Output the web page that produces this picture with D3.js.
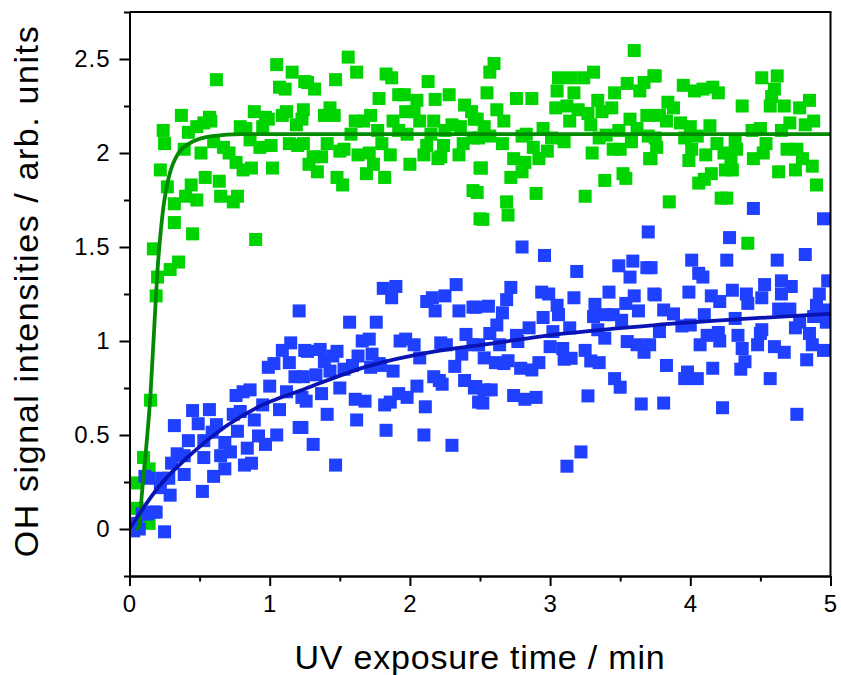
<!DOCTYPE html>
<html lang="en">
<head>
    <meta charset="UTF-8">
    <script type="text/javascript" src="https://cdn.jsdelivr.net/npm/d3@7"></script>
    <title>OH signal</title>
    <style>
        body { margin: 0; background: #fff; }
        text { font-family: "Liberation Sans", Arial, sans-serif; fill: #000; }
    </style>
</head>
<body>
</body>
<script>
    // tick values
    let xTicks = [0, 1, 2, 3, 4, 5];
    let xMinor = [0.5, 1.5, 2.5, 3.5, 4.5];
    let yTicks = [0, 0.5, 1, 1.5, 2, 2.5];
    let yMinor = [-0.25, 0.25, 0.75, 1.25, 1.75, 2.25, 2.75];

    // measured points [time / min, signal]
    let greenPoints = [
        [1.05, 2.47], [1.16, 2.43], [1.07, 2.35], [1.11, 2.34], [0.62, 2.39], [1.25, 2.38], [0.37, 2.20],
        [0.24, 2.12], [0.25, 2.05], [0.42, 2.11], [0.48, 2.14], [0.53, 2.16], [0.57, 2.19], [0.58, 2.17],
        [0.39, 2.02], [0.51, 2.0], [0.60, 2.06], [0.67, 2.03], [0.71, 2.0], [0.76, 1.95], [0.81, 1.91],
        [0.87, 1.92], [0.79, 2.14], [0.83, 2.13], [0.89, 2.22], [0.86, 2.07], [0.93, 2.03], [1.01, 2.04],
        [0.97, 2.19], [0.99, 2.18], [0.95, 2.14], [1.09, 2.20], [1.12, 2.22], [1.19, 2.15], [1.14, 2.05],
        [1.20, 2.04], [1.02, 1.92], [0.22, 1.91], [0.27, 1.82], [0.44, 1.83], [0.54, 1.87], [0.64, 1.85],
        [0.40, 1.77], [0.48, 1.75], [0.65, 1.77], [0.74, 1.74], [0.77, 1.77], [0.32, 1.73], [0.32, 1.63],
        [0.45, 1.57], [0.90, 1.54], [0.17, 1.49], [0.35, 1.42], [0.29, 1.38], [0.20, 1.34], [0.19, 1.24],
        [0.15, 0.685], [0.10, 0.38], [0.14, 0.32], [0.04, 0.245], [0.055, 0.11], [0.14, 0.03],
        [1.56, 2.51], [1.62, 2.43], [1.47, 2.39], [1.27, 2.375], [1.32, 2.34], [1.83, 2.42], [1.87, 2.40],
        [2.13, 2.38], [1.78, 2.29], [1.92, 2.31], [1.96, 2.31], [2.05, 2.28], [2.18, 2.285], [2.28, 2.31],
        [2.39, 2.255], [2.44, 2.22], [2.46, 2.18], [1.24, 2.23], [1.23, 2.18], [1.39, 2.20], [1.43, 2.24],
        [1.46, 2.20], [1.61, 2.17], [1.67, 2.17], [1.72, 2.20], [1.88, 2.17], [1.97, 2.22], [2.03, 2.22],
        [2.07, 2.17], [2.17, 2.17], [2.30, 2.15], [2.36, 2.14], [1.58, 2.10], [1.77, 2.12], [1.92, 2.12],
        [1.98, 2.10], [2.15, 2.10], [2.25, 2.12], [1.24, 2.05], [1.41, 2.05], [1.53, 2.02], [1.50, 2.01],
        [1.63, 1.99], [1.71, 2.0], [1.80, 2.05], [1.86, 1.99], [2.12, 2.04], [2.24, 2.04], [2.38, 2.05],
        [2.45, 2.08], [2.22, 1.98], [1.31, 1.98], [1.37, 1.98], [1.28, 1.94], [1.34, 1.90], [1.74, 1.94],
        [1.69, 1.89], [1.82, 1.87], [2.0, 1.94], [2.10, 1.99], [2.20, 1.97], [2.35, 1.99], [1.48, 1.87],
        [1.52, 1.83], [2.50, 1.92], [2.45, 1.80], [2.50, 1.65],
        [3.60, 2.545], [2.60, 2.476], [2.57, 2.43], [2.55, 2.32], [2.76, 2.29], [2.87, 2.29], [3.06, 2.40],
        [3.15, 2.40], [3.24, 2.40], [3.31, 2.43], [3.05, 2.33], [3.17, 2.32], [3.04, 2.24], [3.12, 2.25],
        [3.20, 2.23], [3.27, 2.21], [3.34, 2.28], [3.37, 2.22], [3.44, 2.24], [3.46, 2.32], [3.55, 2.37],
        [3.64, 2.33], [3.67, 2.375], [3.74, 2.41], [2.62, 2.23], [2.67, 2.17], [2.48, 2.18], [2.53, 2.14],
        [3.14, 2.17], [3.29, 2.15], [3.57, 2.18], [3.69, 2.20], [2.95, 2.13], [2.83, 2.10], [2.57, 2.09],
        [2.49, 2.08], [2.66, 2.05], [2.80, 2.09], [3.01, 2.08], [3.10, 2.06], [3.40, 2.095], [3.49, 2.12],
        [3.62, 2.13], [3.58, 2.06], [3.70, 2.09], [2.88, 2.03], [2.98, 2.01], [2.92, 1.97], [3.35, 2.08],
        [3.30, 2.0], [3.45, 2.02], [3.50, 2.02], [3.71, 1.97], [2.74, 1.97], [2.82, 1.95], [2.80, 1.90],
        [2.72, 1.87], [2.51, 1.92], [3.52, 1.89], [3.54, 1.865], [3.39, 1.854], [2.90, 1.785], [3.25, 1.77],
        [2.48, 1.79], [2.69, 1.74], [2.70, 1.67], [2.52, 1.647],
        [3.75, 2.41], [3.95, 2.36], [4.03, 2.33], [4.09, 2.34], [4.16, 2.35], [4.20, 2.32], [4.51, 2.40],
        [4.62, 2.41], [4.60, 2.34], [4.58, 2.30], [4.57, 2.25], [4.67, 2.25], [4.78, 2.24], [4.85, 2.28],
        [4.37, 2.25], [3.84, 2.27], [3.88, 2.24], [3.78, 2.20], [3.83, 2.17], [3.93, 2.16], [4.0, 2.14],
        [4.14, 2.145], [4.71, 2.16], [4.82, 2.15], [4.88, 2.17], [4.65, 2.12], [4.44, 2.12], [4.50, 2.13],
        [3.75, 2.08], [3.96, 2.08], [4.05, 2.09], [4.19, 2.05], [4.32, 2.06], [3.76, 2.03], [3.72, 1.97],
        [3.99, 1.96], [4.01, 2.02], [4.11, 1.99], [4.24, 2.0], [4.29, 1.97], [4.33, 2.02], [4.45, 1.97],
        [4.52, 2.0], [4.54, 2.05], [4.69, 2.02], [4.76, 2.02], [4.80, 1.97], [4.87, 1.93], [4.15, 1.89],
        [4.10, 1.86], [4.06, 1.84], [4.25, 1.91], [4.30, 1.91], [4.63, 1.90], [4.75, 1.91], [4.90, 1.83],
        [3.85, 1.74], [4.22, 1.76], [4.26, 1.76], [4.41, 1.52]
    ];

    let bluePoints = [
        [1.21, 1.16], [1.15, 0.99], [1.09, 0.95], [1.25, 0.95], [0.99, 0.86], [1.03, 0.88], [1.14, 0.885],
        [1.18, 0.81], [1.12, 0.73], [1.23, 0.70], [1.0, 0.76], [0.76, 0.71], [0.81, 0.73], [0.86, 0.74],
        [0.95, 0.66], [1.07, 0.635], [1.21, 0.54], [0.74, 0.61], [0.79, 0.625], [0.89, 0.58], [0.45, 0.63],
        [0.57, 0.635], [0.32, 0.55], [0.49, 0.56], [0.62, 0.555], [0.59, 0.515], [0.42, 0.47], [0.53, 0.47],
        [0.77, 0.52], [0.68, 0.46], [0.72, 0.41], [0.84, 0.43], [0.92, 0.495], [0.97, 0.45], [1.05, 0.50],
        [0.34, 0.40], [0.30, 0.35], [0.39, 0.39], [0.53, 0.38], [0.65, 0.39], [0.39, 0.29], [0.68, 0.32],
        [0.82, 0.34], [0.87, 0.35], [0.60, 0.28], [0.14, 0.27], [0.23, 0.27], [0.28, 0.27], [0.22, 0.22],
        [0.29, 0.18], [0.52, 0.20], [0.19, 0.09], [0.09, 0.08], [0.05, 0.03], [0.07, 0.0], [0.25, -0.015],
        [0.03, -0.01], [0.11, 0.28], [0.17, 0.09], [0.13, 0.08],
        [1.81, 1.28], [1.90, 1.29], [1.87, 1.23], [2.12, 1.21], [2.16, 1.23], [2.18, 1.16], [2.25, 1.24],
        [2.33, 1.30], [2.35, 1.16], [2.45, 1.18], [1.57, 1.10], [1.76, 1.10], [1.66, 1.00], [1.71, 1.01],
        [1.27, 0.945], [1.36, 0.955], [1.48, 0.945], [1.45, 0.92], [1.39, 0.89], [1.63, 0.92], [1.73, 0.93],
        [1.78, 0.88], [1.93, 1.00], [1.97, 1.01], [2.03, 0.98], [2.07, 0.91], [2.22, 0.99], [2.26, 0.98],
        [2.40, 1.035], [2.45, 0.98], [2.37, 0.93], [2.32, 0.865], [1.88, 0.84], [1.33, 0.82], [1.43, 0.84],
        [1.53, 0.85], [1.59, 0.87], [1.72, 0.86], [1.79, 0.87], [1.24, 0.81], [1.50, 0.75], [1.37, 0.72],
        [1.26, 0.68], [1.61, 0.69], [1.68, 0.68], [1.82, 0.66], [1.86, 0.675], [1.92, 0.72], [1.98, 0.70],
        [2.05, 0.76], [2.11, 0.65], [2.17, 0.81], [2.21, 0.79], [2.23, 0.77], [2.39, 0.79], [2.46, 0.75],
        [2.49, 0.675], [1.41, 0.61], [1.62, 0.58], [1.23, 0.54], [1.31, 0.45], [1.83, 0.525], [2.10, 0.50],
        [2.30, 0.445], [1.47, 0.34],
        [3.70, 1.58], [2.80, 1.50], [2.96, 1.455], [3.19, 1.37], [3.49, 1.40], [3.59, 1.425], [3.57, 1.34],
        [3.69, 1.39], [2.72, 1.285], [2.69, 1.22], [2.94, 1.26], [2.99, 1.25], [3.17, 1.23], [3.42, 1.26],
        [3.60, 1.24], [3.74, 1.25], [3.05, 1.19], [3.32, 1.195], [3.54, 1.20], [3.63, 1.16], [2.47, 1.18],
        [2.56, 1.185], [2.66, 1.15], [2.95, 1.125], [3.06, 1.14], [3.31, 1.13], [3.40, 1.14], [3.45, 1.14],
        [3.51, 1.11], [2.62, 1.085], [2.57, 1.04], [2.85, 1.07], [3.02, 1.05], [3.14, 1.07], [3.34, 1.06],
        [3.39, 1.015], [2.76, 1.03], [2.77, 0.997], [2.64, 0.98], [2.49, 0.98], [3.00, 0.97], [3.09, 0.96],
        [3.25, 0.95], [3.55, 0.997], [3.62, 0.98], [3.67, 0.94], [3.71, 0.98], [2.53, 0.91], [2.61, 0.885],
        [2.70, 0.895], [2.67, 0.88], [2.79, 0.855], [2.87, 0.846], [2.92, 0.885], [3.10, 0.903], [3.15, 0.908],
        [3.29, 0.894], [3.35, 0.885], [3.46, 0.80], [3.50, 0.754], [2.47, 0.758], [2.53, 0.74], [2.58, 0.74],
        [2.52, 0.67], [2.74, 0.71], [2.82, 0.69], [2.90, 0.70], [3.27, 0.708], [3.65, 0.665], [3.22, 0.41],
        [3.12, 0.334],
        [4.45, 1.705], [4.95, 1.65], [4.28, 1.55], [4.01, 1.43], [4.26, 1.43], [4.62, 1.43], [4.82, 1.46],
        [4.06, 1.36], [4.09, 1.34], [3.72, 1.39], [4.53, 1.30], [4.65, 1.32], [4.72, 1.29], [4.98, 1.32],
        [3.99, 1.26], [3.75, 1.245], [4.15, 1.24], [4.21, 1.21], [4.30, 1.27], [4.40, 1.25], [4.41, 1.20],
        [4.51, 1.23], [4.65, 1.25], [4.92, 1.25], [4.90, 1.19], [3.81, 1.165], [3.88, 1.144], [4.10, 1.14],
        [4.32, 1.12], [4.63, 1.17], [4.71, 1.17], [4.97, 1.165], [4.88, 1.13], [3.94, 1.08], [4.0, 1.085],
        [3.78, 1.05], [4.20, 1.045], [4.34, 1.03], [4.50, 1.04], [4.75, 1.07], [4.78, 1.10], [4.85, 1.04],
        [4.12, 1.03],
        [3.83, 0.87], [3.98, 0.835], [4.05, 0.80], [4.07, 0.98], [4.16, 0.855], [4.21, 1.0], [4.37, 0.96],
        [4.36, 0.85], [4.48, 0.98], [4.51, 1.06], [4.57, 0.80], [4.67, 0.94], [4.83, 0.90], [4.87, 0.98],
        [4.95, 0.95], [4.97, 1.10], [3.81, 0.67], [3.96, 0.80], [4.23, 0.645], [4.76, 0.61], [4.39, 0.89],
        [4.60, 0.97]
    ];

    // fitted curves
    let greenFit = [
        [0.045, 0], [0.066, 0.01], [0.09, 0.2], [0.114, 0.39], [0.15, 0.72], [0.18, 1.12], [0.20, 1.38],
        [0.22, 1.56], [0.245, 1.73], [0.28, 1.87], [0.35, 2.0], [0.45, 2.06], [0.59, 2.09], [0.8, 2.10],
        [2, 2.10], [5, 2.10]
    ];
    let blueFit = [
        [0, 0], [0.21, 0.226], [0.447, 0.404], [0.684, 0.545], [0.92, 0.65], [1.25, 0.745], [1.69, 0.864],
        [2.17, 0.944], [2.5, 0.978], [3.11, 1.04], [3.75, 1.085], [4.35, 1.116], [5, 1.145]
    ];

    let width = 841, height = 675;
    let plotLeft = 129.5, plotRight = 830.5, plotTop = 12, plotBottom = 576;
    let markSize = 13;

    let svg = d3.select("body")
        .append("svg")
        .attr("width", width)
        .attr("height", height)

    // scales
    let xScale = d3.scaleLinear().domain([0, 5]).range([plotLeft, plotRight])
    let yScale = d3.scaleLinear().domain([-0.25, 2.75]).range([plotBottom, plotTop])

    svg.append("clipPath").attr("id", "plot")
        .append("rect")
        .attr("x", plotLeft).attr("y", plotTop)
        .attr("width", plotRight - plotLeft).attr("height", plotBottom - plotTop)

    let plot = svg.append("g").attr("clip-path", "url(#plot)")

    // scatter
    plot.selectAll(".green")
        .data(greenPoints)
        .enter()
        .append("rect")
        .attr("class", "green")
        .attr("x", d => xScale(d[0]) - markSize / 2)
        .attr("y", d => yScale(d[1]) - markSize / 2)
        .attr("width", markSize)
        .attr("height", markSize)
        .attr("fill", "#00d400")

    plot.selectAll(".blue")
        .data(bluePoints)
        .enter()
        .append("rect")
        .attr("class", "blue")
        .attr("x", d => xScale(d[0]) - markSize / 2)
        .attr("y", d => yScale(d[1]) - markSize / 2)
        .attr("width", markSize)
        .attr("height", markSize)
        .attr("fill", "#2040ff")

    // fit lines
    let line = d3.line()
        .x(d => xScale(d[0]))
        .y(d => yScale(d[1]))
        .curve(d3.curveMonotoneX)

    plot.append("path")
        .datum(greenFit)
        .attr("d", line)
        .attr("fill", "none")
        .attr("stroke", "#038a03")
        .attr("stroke-width", 3.8)

    plot.append("path")
        .datum(blueFit)
        .attr("d", line)
        .attr("fill", "none")
        .attr("stroke", "#0a14b4")
        .attr("stroke-width", 3.8)

    // axes
    let fmt = d => d3.format("~g")(d)

    svg.append("g")
        .attr("transform", `translate(0, ${plotBottom})`)
        .call(d3.axisBottom(xScale).tickValues(xTicks).tickFormat(fmt).tickSize(10).tickSizeOuter(0).tickPadding(9))
    svg.append("g")
        .attr("transform", `translate(0, ${plotBottom})`)
        .call(d3.axisBottom(xScale).tickValues(xMinor).tickFormat("").tickSize(5.5).tickSizeOuter(0))

    svg.append("g")
        .attr("transform", `translate(${plotLeft}, 0)`)
        .call(d3.axisLeft(yScale).tickValues(yTicks).tickFormat(fmt).tickSize(10).tickSizeOuter(0).tickPadding(9))
    svg.append("g")
        .attr("transform", `translate(${plotLeft}, 0)`)
        .call(d3.axisLeft(yScale).tickValues(yMinor).tickFormat("").tickSize(5.5).tickSizeOuter(0))

    svg.selectAll(".domain, .tick line")
        .attr("stroke", "#000")
        .attr("stroke-width", 2)

    svg.selectAll(".tick text")
        .attr("font-size", 24)
        .attr("letter-spacing", "1px")
        .attr("font-family", "'Liberation Sans', Arial, sans-serif")

    // frame top and right
    svg.append("line")
        .attr("x1", plotLeft).attr("x2", plotRight + 1)
        .attr("y1", plotTop).attr("y2", plotTop)
        .attr("stroke", "#000").attr("stroke-width", 2)
    svg.append("line")
        .attr("x1", plotRight).attr("x2", plotRight)
        .attr("y1", plotTop).attr("y2", plotBottom)
        .attr("stroke", "#000").attr("stroke-width", 2)

    // titles
    svg.append("text")
        .attr("x", (plotLeft + plotRight) / 2)
        .attr("y", 669)
        .attr("text-anchor", "middle")
        .attr("font-size", 34)
        .attr("letter-spacing", "0.8px")
        .text("UV exposure time / min")

    svg.append("text")
        .attr("transform", "translate(38, 291) rotate(-90)")
        .attr("text-anchor", "middle")
        .attr("font-size", 34)
        .attr("letter-spacing", "1.6px")
        .text("OH signal intensities / arb. units")
</script>
</html>
